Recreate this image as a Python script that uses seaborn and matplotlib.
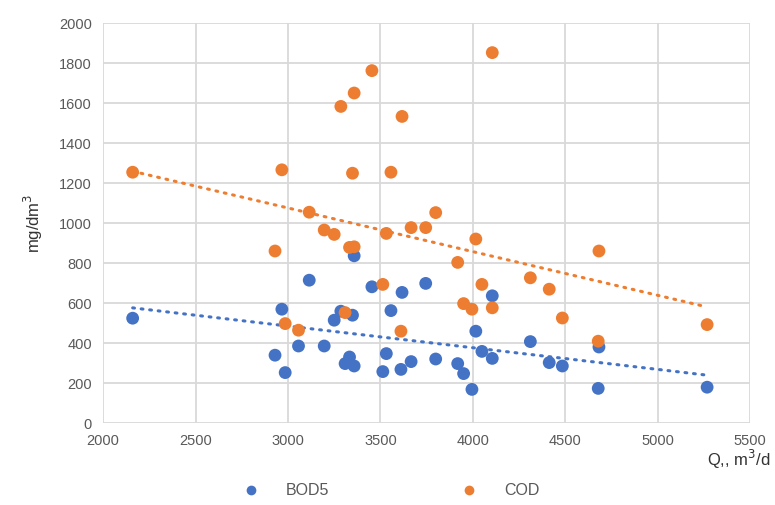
import numpy as np
import pandas as pd
import matplotlib
matplotlib.use('Agg')
import matplotlib.pyplot as plt
import seaborn as sns

# flow Q, m3/d and concentrations, mg/dm3
q = [2160, 2930, 2967, 2985, 3057, 3115, 3196, 3250, 3286, 3309, 3333, 3349,
     3358, 3358, 3454, 3513, 3532, 3557, 3611, 3617, 3666, 3745, 3799, 3918,
     3950, 3995, 4016, 4049, 4105, 4105, 4311, 4413, 4484, 4678, 4682, 5267]
bod5 = [525, 340, 570, 253, 386, 715, 386, 515, 560, 298, 331, 540,
        286, 837, 682, 258, 348, 563, 269, 654, 308, 699, 321, 298,
        248, 169, 460, 359, 324, 637, 408, 303, 286, 174, 381, 180]
cod = [1255, 861, 1267, 498, 465, 1055, 966, 944, 1584, 553, 879, 1250,
       882, 1651, 1763, 694, 949, 1255, 460, 1534, 978, 978, 1053, 804,
       598, 570, 921, 694, 577, 1853, 727, 670, 526, 410, 861, 493]

x_ticks = [2000, 2500, 3000, 3500, 4000, 4500, 5000, 5500]
y_ticks = [0, 200, 400, 600, 800, 1000, 1200, 1400, 1600, 1800, 2000]

df = pd.DataFrame({'Q': q, 'BOD5': bod5, 'COD': cod})
long = df.melt(id_vars='Q', var_name='param', value_name='conc')

sns.set_style('white')
plt.rcParams['font.family'] = ['Liberation Sans', 'DejaVu Sans']

colors = {'BOD5': '#4472C4', 'COD': '#ED7D31'}
grey = '#595959'

fig, ax = plt.subplots(figsize=(7.75, 5.05), dpi=100)
fig.subplots_adjust(left=0.133, right=0.968, top=0.954, bottom=0.162)

sns.scatterplot(data=long, x='Q', y='conc', hue='param', palette=colors,
                s=85, edgecolor='none', ax=ax, legend=False, zorder=3)

# linear trend lines
for p in ['BOD5', 'COD']:
    sns.regplot(data=df, x='Q', y=p, scatter=False, ci=None, ax=ax,
                color=colors[p],
                line_kws=dict(linestyle=(0, (0.6, 2.2)), lw=2.2,
                              dash_capstyle='round', zorder=2))

ax.set_xlim(2000, 5500)
ax.set_ylim(0, 2000)
ax.set_xticks(x_ticks)
ax.set_yticks(y_ticks)
ax.grid(True, color='#d9d9d9', lw=1.3)
ax.set_axisbelow(True)
for s in ax.spines.values():
    s.set_visible(False)
ax.tick_params(axis='both', length=0, labelsize=10.5, labelcolor=grey, pad=8)

ax.set_xlabel('')
ax.set_ylabel('mg/dm$^3$', fontsize=12, color='#333333', labelpad=10)
fig.text(0.995, 0.09, 'Q,, m$^3$/d', ha='right', va='center',
         fontsize=12, color='#333333')

handles = [plt.Line2D([], [], marker='o', ls='none', ms=7,
                      color=colors[p], markeredgecolor='none')
           for p in ['BOD5', 'COD']]
fig.legend(handles, ['BOD5', 'COD'], loc='center', ncol=2,
           bbox_to_anchor=(0.50, 0.028), frameon=False, fontsize=11.5,
           labelcolor=grey, columnspacing=7.75, handletextpad=1.2)

fig.savefig('out.png', dpi=100)
